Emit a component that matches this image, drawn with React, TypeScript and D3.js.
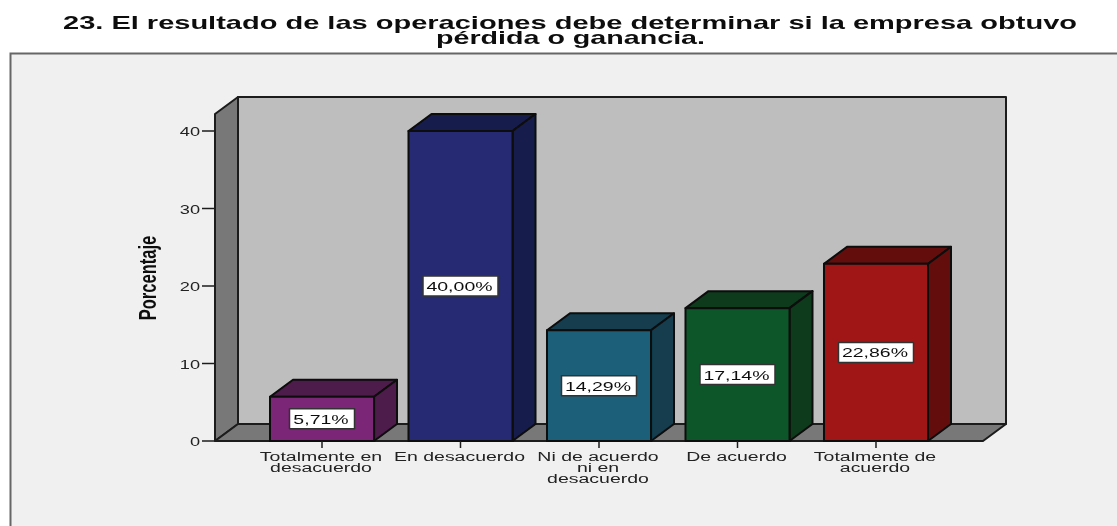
import React from "react";
import * as d3 from "d3";

const categories: string[][] = [
  ["Totalmente en", "desacuerdo"],
  ["En desacuerdo"],
  ["Ni de acuerdo", "ni en", "desacuerdo"],
  ["De acuerdo"],
  ["Totalmente de", "acuerdo"],
];
const values = [5.71, 40.0, 14.29, 17.14, 22.86];
const labels = ["5,71%", "40,00%", "14,29%", "17,14%", "22,86%"];
const frontColors = ["#7b2677", "#262a73", "#1b5e78", "#0a572c", "#a01517"];
const darkColors = ["#4e1a4b", "#181b4b", "#123c4e", "#083a1d", "#640c0e"];
const yTicks = [0, 10, 20, 30, 40];
const titleLines = [
  "23. El resultado de las operaciones debe determinar si la empresa obtuvo",
  "pérdida o ganancia.",
];

const W = 1117;
const H = 526;
const DX = 23;
const DY = 17;
const INK = "#1c1c1c";
const FONT = "'Liberation Sans', Arial, sans-serif";
const STRETCH = 1.56;

const y = d3.scaleLinear().domain([0, 40]).range([441, 131]);
const x = d3
  .scaleBand<number>()
  .domain(values.map((_, i) => i))
  .range([270, 928])
  .paddingInner(0.249)
  .paddingOuter(0);

const poly = (pts: [number, number][]) => {
  const p = d3.path();
  pts.forEach(([a, b], i) => (i ? p.lineTo(a, b) : p.moveTo(a, b)));
  p.closePath();
  return p.toString();
};

export default function App() {
  const left = 215;
  const right = 983;
  const base = y(0);
  const top = 114;
  return (
    <svg
      width={W}
      height={H}
      viewBox={`0 0 ${W} ${H}`}
      style={{ position: "absolute", left: 0, top: 0, display: "block" }}
    >
      <defs>
        <filter id="soft" x="-2%" y="-2%" width="104%" height="104%">
          <feGaussianBlur stdDeviation="0.35" />
        </filter>
      </defs>
      <rect width={W} height={H} fill="#ffffff" />
      <g filter="url(#soft)">
        {/* frame */}
        <rect x={10.5} y={53.5} width={W + 20} height={H} fill="#f0f0f0" stroke="#666666" strokeWidth={2} />
        {/* title */}
        <text
          x={570}
          y={29}
          textAnchor="middle"
          fontFamily={FONT}
          fontWeight="bold"
          fontSize={18.5}
          textLength={1014}
          lengthAdjust="spacingAndGlyphs"
          fill="#111"
        >
          {titleLines[0]}
        </text>
        <text
          x={570.5}
          y={44}
          textAnchor="middle"
          fontFamily={FONT}
          fontWeight="bold"
          fontSize={18.5}
          textLength={269}
          lengthAdjust="spacingAndGlyphs"
          fill="#111"
        >
          {titleLines[1]}
        </text>

        {/* walls */}
        <g stroke={INK} strokeWidth={2} strokeLinejoin="round">
          <path
            d={poly([
              [left + DX, top - DY],
              [right + DX, top - DY],
              [right + DX, base - DY],
              [left + DX, base - DY],
            ])}
            fill="#bebebe"
          />
          <path
            d={poly([
              [left, top],
              [left + DX, top - DY],
              [left + DX, base - DY],
              [left, base],
            ])}
            fill="#787878"
          />
          <path
            d={poly([
              [left, base],
              [left + DX, base - DY],
              [right + DX, base - DY],
              [right, base],
            ])}
            fill="#787878"
          />
        </g>

        {/* y axis */}
        {yTicks.map((t) => (
          <g key={t}>
            <line x1={left - 13} x2={left} y1={y(t)} y2={y(t)} stroke={INK} strokeWidth={1.5} />
            <text
              transform={`translate(${left - 15},${y(t) + 5}) scale(1.4,1)`}
              textAnchor="end"
              fontFamily={FONT}
              fontSize={13}
              fill="#222"
            >
              {t}
            </text>
          </g>
        ))}
        <text
          transform={`translate(156,278) rotate(-90) scale(0.72,1)`}
          textAnchor="middle"
          fontFamily={FONT}
          fontWeight="bold"
          fontSize={23}
          fill="#111"
        >
          Porcentaje
        </text>

        {/* bars */}
        {values.map((v, i) => {
          const x0 = x(i)!;
          const x1 = x0 + x.bandwidth();
          const yv = y(v);
          const cx = x0 + x.bandwidth() / 2;
          const cy = (yv + base) / 2;
          const boxW = labels[i].length === 5 ? 65 : 75;
          return (
            <g key={i} stroke="#0c0c0c" strokeWidth={2} strokeLinejoin="round">
              <path
                d={poly([
                  [x0, yv],
                  [x0 + DX, yv - DY],
                  [x1 + DX, yv - DY],
                  [x1, yv],
                ])}
                fill={darkColors[i]}
              />
              <path
                d={poly([
                  [x1, yv],
                  [x1 + DX, yv - DY],
                  [x1 + DX, base - DY],
                  [x1, base],
                ])}
                fill={darkColors[i]}
              />
              <rect x={x0} y={yv} width={x.bandwidth()} height={base - yv} fill={frontColors[i]} />
              <rect
                x={cx - boxW / 2}
                y={cy - 10}
                width={boxW}
                height={20}
                fill="#ffffff"
                stroke="#333"
                strokeWidth={1.5}
              />
              <text
                transform={`translate(${cx - 1},${cy + 5}) scale(1.5,1)`}
                textAnchor="middle"
                fontFamily={FONT}
                fontSize={13}
                fill="#111"
                stroke="none"
              >
                {labels[i]}
              </text>
            </g>
          );
        })}

        {/* x axis */}
        {categories.map((lines, i) => {
          const cx = x(i)! + x.bandwidth() / 2;
          return (
            <g key={i}>
              <line x1={cx} x2={cx} y1={base} y2={base + 7} stroke={INK} strokeWidth={1.5} />
              {lines.map((ln, j) => (
                <text
                  key={j}
                  transform={`translate(${cx - 1},${461 + j * 11}) scale(${STRETCH},1)`}
                  textAnchor="middle"
                  fontFamily={FONT}
                  fontSize={12.5}
                  fill="#222"
                >
                  {ln}
                </text>
              ))}
            </g>
          );
        })}
      </g>
    </svg>
  );
}
